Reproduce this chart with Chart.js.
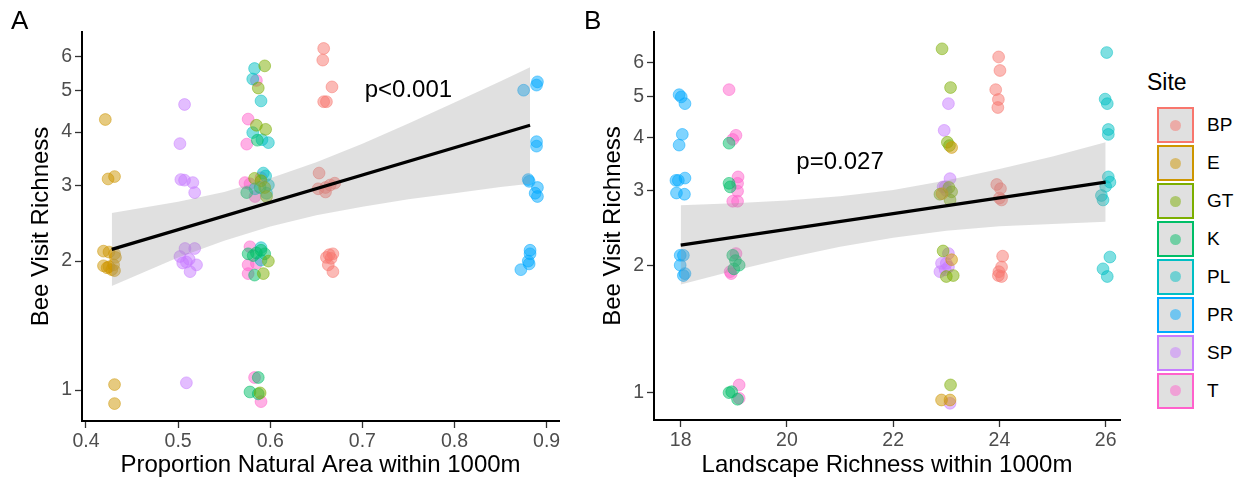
<!DOCTYPE html>
<html lang="en">
<head>
<meta charset="UTF-8">
<title>Bee Visit Richness</title>
<script src="https://cdn.jsdelivr.net/npm/chart.js"></script>
<style>
  body { margin: 0; background: #fff; font-family: 'Liberation Sans', Arial, sans-serif; }
  #wrap { position: relative; width: 1244px; height: 484px; overflow: hidden; }
  #natChart { position: absolute; left: 0; top: 0; }
  #landChart { position: absolute; left: 575px; top: 0; }
  #legendTitle { position: absolute; left: 1147px; top: 69px; font-size: 23px; color: #000; }
  .key { position: absolute; left: 1157px; width: 37px; height: 36px; box-sizing: border-box;
         border: 2.5px solid; background: #e0e0e0; }
  .key span { position: absolute; left: 50%; top: 50%; width: 11px; height: 11px; margin: -5.5px 0 0 -5.5px; border-radius: 50%; }
  .keyLabel { position: absolute; left: 1207px; font-size: 19px; color: #000; line-height: 20px; }
</style>
</head>
<body>
<div id="wrap">
  <canvas id="natChart" width="600" height="484"></canvas>
  <canvas id="landChart" width="565" height="484"></canvas>
  <div id="legendTitle">Site</div>
  <div id="legend"></div>
</div>

<script>
// sites and their colours
const sites = ['BP', 'E', 'GT', 'K', 'PL', 'PR', 'SP', 'T'];
const siteColors = ['#F8766D', '#CD9600', '#7CAE00', '#00BE67', '#00BFC4', '#00A9FF', '#C77CFF', '#FF61CC'];

// panel A: proportion natural area (x) vs bee visit richness (y), jittered
const natBP = [[0.658,6.27],[0.657,5.89],[0.667,5.10],[0.658,4.71],[0.661,4.71],
  [0.653,3.21],[0.652,2.95],[0.660,2.97],[0.660,2.90],[0.670,3.04],[0.665,3.01],
  [0.668,2.08],[0.661,2.04],[0.666,2.03],[0.663,1.96],[0.668,1.89],[0.664,2.07]];
const natE = [[0.421,4.28],[0.424,3.11],[0.431,3.15],
  [0.419,2.11],[0.425,2.10],[0.431,2.08],[0.432,2.04],[0.419,1.95],[0.425,1.94],
  [0.430,1.96],[0.431,1.90],[0.428,1.91],[0.423,1.93],[0.431,1.03],[0.431,0.93]];
const natGT = [[0.594,5.71],[0.587,5.07],[0.585,4.15],[0.595,4.06],
  [0.583,3.12],[0.596,2.83],[0.594,2.97],[0.590,3.08],[0.598,2.00],[0.5925,1.87],[0.589,0.985]];
const natK = [[0.586,3.83],[0.5745,2.89],[0.589,2.97],
  [0.576,2.08],[0.585,2.09],[0.594,2.08],[0.583,1.855],[0.5815,2.06],[0.590,2.12],
  [0.578,0.99],[0.587,0.98],[0.587,1.07]];
const natPL = [[0.583,5.63],[0.581,5.32],[0.590,4.73],[0.581,3.99],[0.591,3.84],[0.598,3.78],
  [0.5925,3.21],[0.595,3.16],[0.598,3.01],[0.5835,2.95],[0.596,2.88],[0.590,2.15],[0.590,2.01]];
const natPR = [[0.890,5.24],[0.889,5.15],[0.875,5.01],[0.889,3.80],[0.889,3.71],
  [0.880,3.10],[0.881,3.07],[0.890,2.97],[0.8875,2.88],[0.890,2.83],
  [0.882,2.12],[0.882,2.08],[0.880,2.00],[0.881,1.97],[0.872,1.91]];
const natSP = [[0.507,4.64],[0.502,3.76],[0.507,3.09],[0.503,3.10],[0.516,3.05],[0.518,2.89],
  [0.5075,2.14],[0.518,2.14],[0.502,2.05],[0.509,1.99],[0.520,1.96],[0.513,1.89],
  [0.512,2.02],[0.505,1.98],[0.509,1.04]];
const natT = [[0.585,5.28],[0.576,4.29],[0.5745,3.75],
  [0.5726,3.05],[0.578,3.03],[0.590,3.13],[0.5835,2.83],
  [0.578,2.16],[0.576,1.96],[0.585,1.975],[0.576,1.87],[0.583,1.07],[0.590,0.94]];

// panel A fit line and confidence band
const natLine = [[0.428, 2.13], [0.882, 4.15]];
const natBandX = [0.428, 0.5, 0.55, 0.6, 0.65, 0.7, 0.75, 0.8, 0.85, 0.882];
const natBandHi = [2.59, 2.75, 2.90, 3.12, 3.40, 3.76, 4.19, 4.69, 5.26, 5.67];
const natBandLo = [1.75, 2.04, 2.23, 2.41, 2.56, 2.68, 2.79, 2.88, 2.98, 3.03];
const natTicks = [0.4, 0.5, 0.6, 0.7, 0.8, 0.9];
const natTickLabels = ['0.4', '0.5', '0.6', '0.7', '0.8', '0.9'];

// panel B: landscape richness (x) vs bee visit richness (y), jittered
const landBP = [[23.985,6.2],[24.01,5.76],[23.93,5.19],[23.98,4.92],[23.97,4.71],
  [23.95,3.10],[24.02,3.03],[24.04,2.85],[24.0,2.88],
  [24.06,2.10],[24.04,1.98],[23.99,1.93],[24.04,1.88],[23.98,1.89]];
const landE = [[23.10,3.79],[22.92,2.95],[23.10,2.06],[22.91,0.961],[23.07,0.961]];
const landGT = [[22.92,6.48],[23.08,5.25],[23.02,3.90],[23.06,3.83],[22.88,2.94],[23.10,2.98],
  [23.07,2.85],[23.05,3.05],[22.94,2.16],[23.13,1.89],[23.00,1.88],[23.08,1.043]];
const landK = [[18.91,3.88],[18.91,3.12],[18.93,3.06],[18.98,2.11],[19.03,2.05],[19.10,2.00],
  [19.00,1.96],[18.91,1.00],[18.96,1.005],[19.07,0.965]];
const landPL = [[26.02,6.35],[25.99,4.93],[26.03,4.81],[26.05,4.18],[26.05,4.07],
  [26.05,3.23],[26.08,3.14],[26.0,3.07],[25.92,2.92],[25.95,2.85],
  [26.08,2.09],[25.95,1.96],[26.03,1.88]];
const landPR = [[17.97,5.05],[18.01,4.99],[18.08,4.81],[18.03,4.07],[17.97,3.84],
  [17.91,3.17],[17.955,3.17],[18.08,3.21],[17.92,2.96],[18.07,2.94],
  [17.99,2.11],[18.05,2.11],[17.99,2.00],[18.08,1.91],[18.05,1.89]];
const landSP = [[23.04,4.81],[22.96,4.16],[23.07,3.20],[22.94,3.06],[23.00,3.00],[22.98,3.06],
  [23.04,2.13],[22.91,2.02],[23.00,2.02],[22.88,1.93],[22.98,1.95],[23.04,1.98],[23.07,0.944]];
const landT = [[18.91,5.19],[19.04,4.05],[18.98,3.96],[19.07,3.12],[19.08,3.23],[19.07,2.99],
  [18.98,2.83],[19.07,2.83],[19.04,2.13],[18.93,1.93],[18.95,1.91],[19.10,1.043],[19.10,0.97]];

// panel B fit line and confidence band
const landLine = [[18, 2.23], [26, 3.14]];
const landBandX = [18, 19, 20, 21, 22, 23, 24, 25, 26];
const landBandHi = [2.77, 2.80, 2.84, 2.91, 3.01, 3.17, 3.37, 3.61, 3.90];
const landBandLo = [1.80, 1.94, 2.08, 2.21, 2.32, 2.41, 2.47, 2.50, 2.53];
const landTicks = [18, 20, 22, 24, 26];
const landTickLabels = ['18', '20', '22', '24', '26'];

const yTicks = [1, 2, 3, 4, 5, 6];
const yTickLabels = ['1', '2', '3', '4', '5', '6'];

Chart.defaults.font.family = "'Liberation Sans', Arial, sans-serif";

function rgba(hex, a) {
  const n = parseInt(hex.slice(1), 16);
  return `rgba(${n >> 16}, ${(n >> 8) & 255}, ${n & 255}, ${a})`;
}
const toXY = pts => pts.map(p => ({x: p[0], y: p[1]}));

// draws the panel letter and the p-value note
const notes = {
  id: 'notes',
  afterDraw(chart, args, o) {
    const {ctx, scales} = chart;
    ctx.save();
    ctx.fillStyle = '#000';
    ctx.font = "26px 'Liberation Sans'";
    ctx.textAlign = 'left';
    ctx.textBaseline = 'alphabetic';
    ctx.fillText(o.tag, o.tagX, 28.5);
    ctx.font = "24px 'Liberation Sans'";
    ctx.textAlign = 'center';
    ctx.textBaseline = 'middle';
    ctx.fillText(o.text, scales.x.getPixelForValue(o.at[0]), scales.y.getPixelForValue(o.at[1]));
    ctx.restore();
  }
};

function drawPanel(id, groups, line, bandX, bandHi, bandLo, opt) {
  const datasets = [
    {type: 'line', data: toXY(line), borderColor: '#000', borderWidth: 3.2,
     pointRadius: 0, fill: false, order: 0},
    {type: 'line', data: bandX.map((x, i) => ({x, y: bandHi[i]})), borderWidth: 0,
     borderColor: 'transparent', backgroundColor: 'rgba(153,153,153,0.3)', pointRadius: 0, fill: '+1', order: 1},
    {type: 'line', data: bandX.map((x, i) => ({x, y: bandLo[i]})), borderWidth: 0,
     borderColor: 'transparent', pointRadius: 0, fill: false, order: 1}
  ];
  groups.forEach((g, i) => {
    datasets.push({
      label: sites[i], data: toXY(g), order: 2,
      backgroundColor: rgba(siteColors[i], 0.5),
      borderColor: rgba(siteColors[i], 0.5),
      borderWidth: 1, pointRadius: 5.9
    });
  });

  new Chart(document.getElementById(id), {
    type: 'scatter',
    data: {datasets},
    plugins: [notes],
    options: {
      responsive: false,
      animation: false,
      events: [],
      layout: {padding: {left: 0, top: 32, right: opt.padRight, bottom: 0}},
      plugins: {
        legend: {display: false},
        tooltip: {enabled: false},
        notes: opt.notes
      },
      scales: {
        x: {
          type: 'linear', min: opt.xMin, max: opt.xMax,
          afterBuildTicks: s => { s.ticks = opt.xTicks.map(v => ({value: v})); },
          afterFit: s => { s.height = opt.xHeight; },
          ticks: {color: '#4D4D4D', font: {size: 19.5}, padding: 2,
                  callback: (v, i) => opt.xLabels[i]},
          grid: {drawOnChartArea: false, tickLength: 7, tickColor: '#333', tickWidth: 1.3},
          border: {color: '#000', width: 2},
          title: {display: true, text: opt.xTitle, color: '#000', font: {size: 24},
                  padding: {top: 0, bottom: 4}}
        },
        y: {
          type: 'logarithmic', min: opt.yMin, max: opt.yMax,
          afterBuildTicks: s => { s.ticks = yTicks.map(v => ({value: v})); },
          afterFit: s => { s.width = opt.yWidth; },
          ticks: {color: '#4D4D4D', font: {size: 19.5}, padding: 3,
                  callback: (v, i) => yTickLabels[i]},
          grid: {drawOnChartArea: false, tickLength: 7, tickColor: '#333', tickWidth: 1.3},
          border: {color: '#000', width: 2},
          title: {display: true, text: 'Bee Visit Richness', color: '#000', font: {size: 24},
                  padding: {top: opt.yTitlePad, bottom: 0}}
        }
      }
    }
  });
}

drawPanel('natChart', [natBP, natE, natGT, natK, natPL, natPR, natSP, natT],
  natLine, natBandX, natBandHi, natBandLo, {
    xMin: 0.3957, xMax: 0.9134, xTicks: natTicks, xLabels: natTickLabels,
    yMin: 0.847, yMax: 6.85, xTitle: 'Proportion Natural Area within 1000m',
    padRight: 41, xHeight: 63, yWidth: 82, yTitlePad: 26.6,
    notes: {tag: 'A', tagX: 11, text: 'p<0.001', at: [0.75, 5]}
  });

drawPanel('landChart', [landBP, landE, landGT, landK, landPL, landPR, landSP, landT],
  landLine, landBandX, landBandHi, landBandLo, {
    xMin: 17.497, xMax: 26.27, xTicks: landTicks, xLabels: landTickLabels,
    yMin: 0.862, yMax: 7.1, xTitle: 'Landscape Richness within 1000m',
    padRight: 20, xHeight: 64, yWidth: 79, yTitlePad: 24.4,
    notes: {tag: 'B', tagX: 9, text: 'p=0.027', at: [21, 3.5]}
  });

// legend keys
const legend = document.getElementById('legend');
sites.forEach((s, i) => {
  const top = 107.3 + i * 37.9;
  const key = document.createElement('div');
  key.className = 'key';
  key.style.top = top + 'px';
  key.style.borderColor = siteColors[i];
  const dot = document.createElement('span');
  dot.style.background = rgba(siteColors[i], 0.5);
  key.appendChild(dot);
  legend.appendChild(key);
  const lab = document.createElement('div');
  lab.className = 'keyLabel';
  lab.style.top = (top + 8) + 'px';
  lab.textContent = s;
  legend.appendChild(lab);
});
</script>
</body>
</html>
